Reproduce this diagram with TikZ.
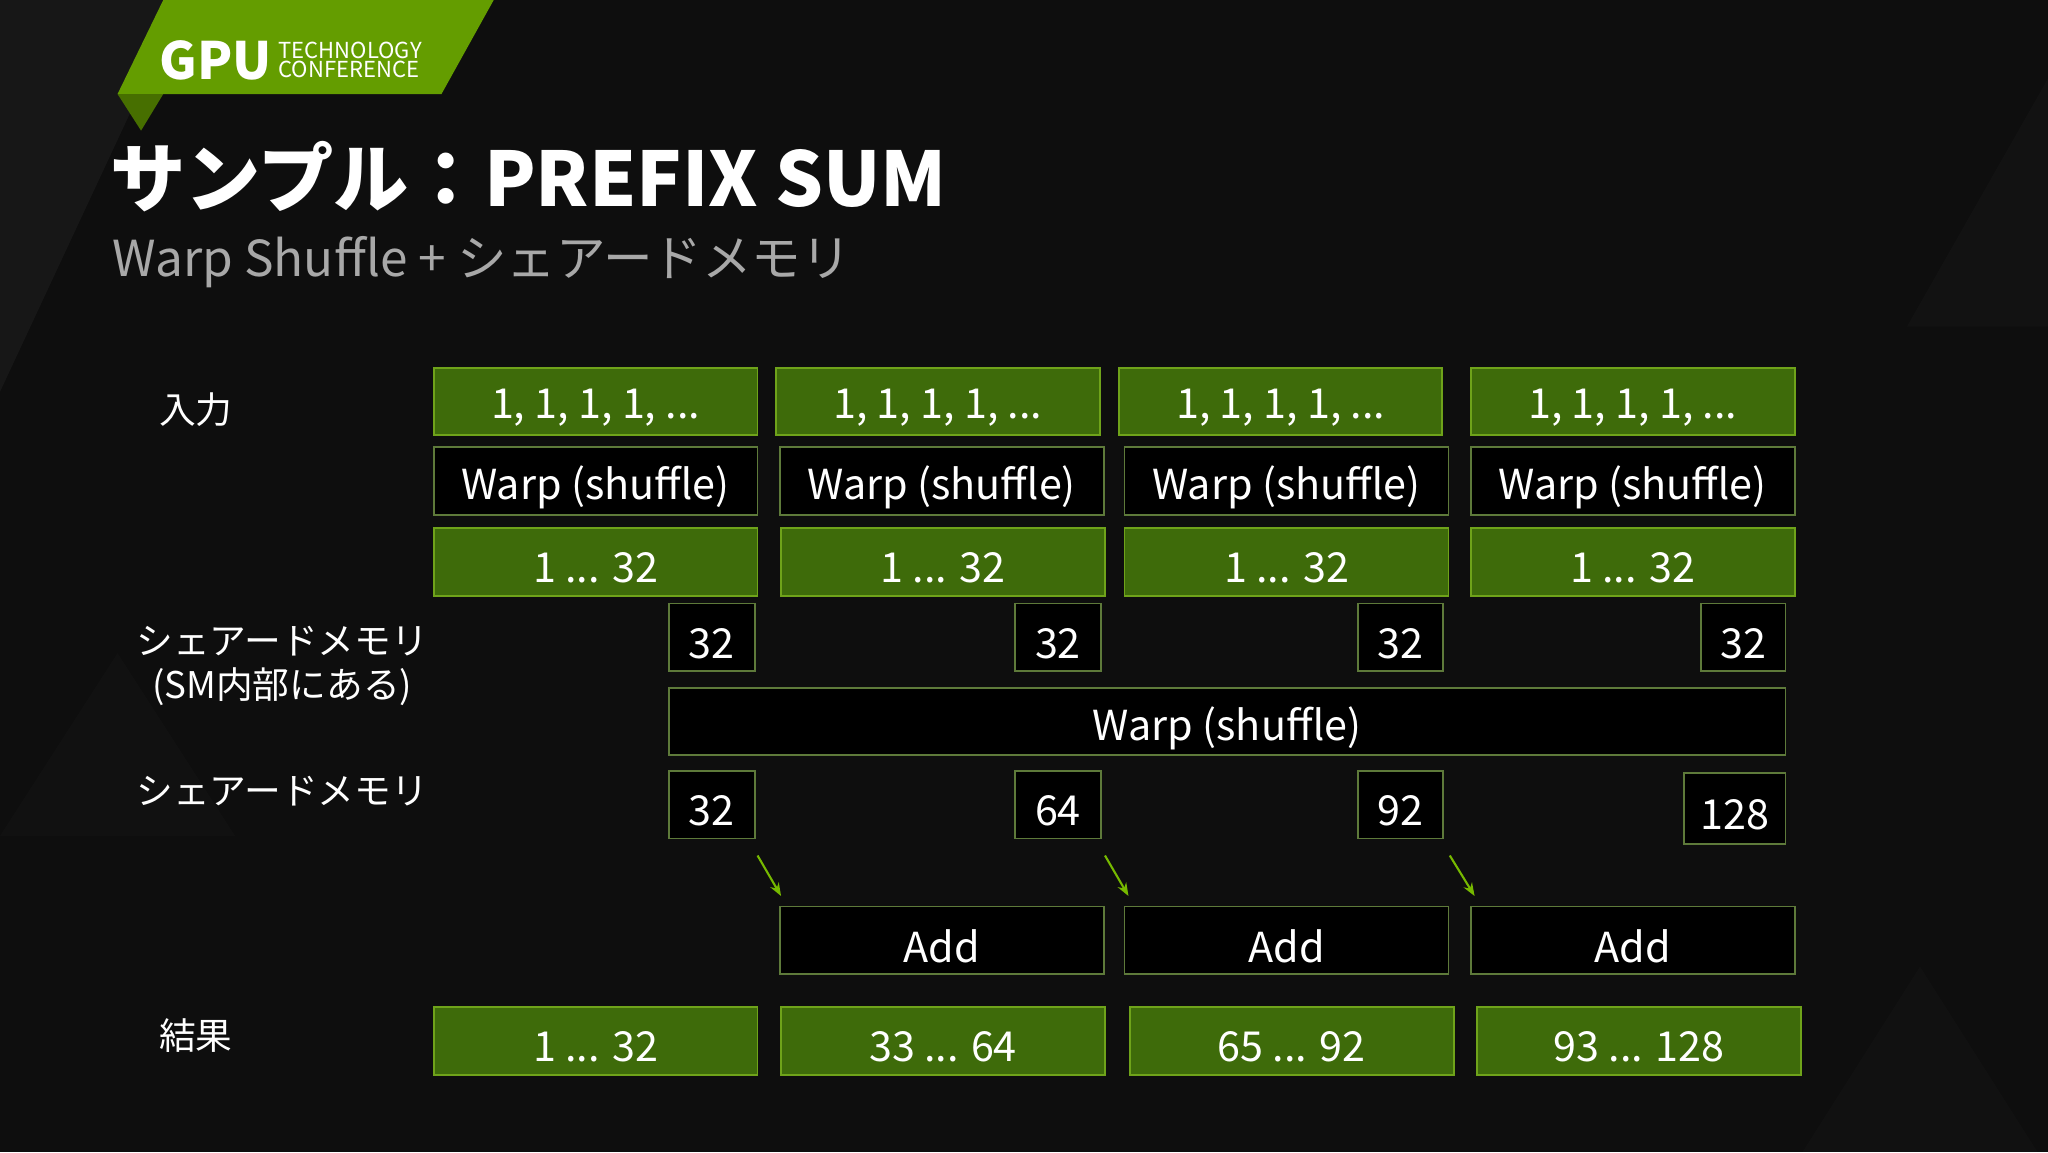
\documentclass[tikz,border=0pt]{standalone}
\usepackage{fontspec}
\setmainfont{Noto Sans CJK JP}
\usetikzlibrary{arrows.meta}
\definecolor{bg}{HTML}{0E0E0E}
\definecolor{ngreen}{HTML}{76B900}
\definecolor{gfill}{HTML}{3E6B0A}
\definecolor{gedge}{HTML}{6FA31A}
\definecolor{oedge}{HTML}{5E7A3A}
\definecolor{subgray}{HTML}{A8A8A8}
\tikzset{
 gbox/.style={draw=gedge,line width=0.35mm,fill=gfill,text=white,font=\fontsize{22.5}{26}\selectfont},
 obox/.style={draw=oedge,line width=0.35mm,fill=black,text=white,font=\fontsize{22.5}{26}\selectfont},
 lbl/.style={text=white,font=\fontsize{20}{24}\selectfont,align=center},
 arr/.style={draw=ngreen,line width=0.4mm,-{Stealth[length=2.5mm]}}
}
\newcommand{\bx}[6]{\path[#1] (#2,#3) rectangle (#4,#5) node[midway,inner sep=0pt,yshift=-1.2mm] (#6) {};}
\begin{document}
\begin{tikzpicture}[x=0.25mm,y=-0.25mm]
\fill[bg] (0,0) rectangle (1568,882);
\useasboundingbox (0,0) rectangle (1568,882);
\fill[white,opacity=0.04] (0,0) -- (140,0) -- (0,300) -- cycle;
\fill[white,opacity=0.02] (1460,250) -- (1568,60) -- (1568,250) -- cycle;
\fill[white,opacity=0.015] (0,640) -- (90,500) -- (180,640) -- cycle;
\fill[white,opacity=0.015] (1380,882) -- (1470,740) -- (1560,882) -- cycle;
% logo
\fill[ngreen!85!black] (90,72) -- (125,0) -- (378,0) -- (338,72) -- cycle;
\fill[ngreen!60!black] (90,72) -- (125,72) -- (108,100) -- cycle;
\node[anchor=west,text=white,font=\bfseries\fontsize{28}{30}\selectfont,inner sep=0pt] (gpu) at (122,46) {GPU};
\node[anchor=west,text=white,font=\fontsize{12}{13}\selectfont,align=left,inner sep=0pt] (tc) at (213,46) {TECHNOLOGY\\[-3pt]CONFERENCE};
% titles
\node[anchor=base west,text=white,font=\bfseries\fontsize{41}{46}\selectfont,inner sep=0pt] (title) at (84,158) {サンプル：PREFIX SUM};
\node[anchor=base west,text=subgray,font=\fontsize{27}{30}\selectfont,inner sep=0pt] (sub) at (86,212) {Warp Shuffle + シェアードメモリ};
% labels
\node[lbl] (l1) at (150,314) {入力};
\node[lbl] (l2) at (216,510) {シェアードメモリ\\(SM内部にある)};
\node[lbl] (l3) at (216,606) {シェアードメモリ};
\node[lbl] (l4) at (150,793) {結果};
% row1
\bx{gbox}{332}{282}{580}{333}{a1} \node[gbox,draw=none,fill=none] at (a1) {1, 1, 1, 1, ...};
\bx{gbox}{594}{282}{842}{333}{a2} \node[gbox,draw=none,fill=none] at (a2) {1, 1, 1, 1, ...};
\bx{gbox}{857}{282}{1104}{333}{a3} \node[gbox,draw=none,fill=none] at (a3) {1, 1, 1, 1, ...};
\bx{gbox}{1126}{282}{1374}{333}{a4} \node[gbox,draw=none,fill=none] at (a4) {1, 1, 1, 1, ...};
% row2
\bx{obox}{332}{342}{580}{394}{b1} \node[obox,draw=none,fill=none] at (b1) {Warp (shuffle)};
\bx{obox}{597}{342}{845}{394}{b2} \node[obox,draw=none,fill=none] at (b2) {Warp (shuffle)};
\bx{obox}{861}{342}{1109}{394}{b3} \node[obox,draw=none,fill=none] at (b3) {Warp (shuffle)};
\bx{obox}{1126}{342}{1374}{394}{b4} \node[obox,draw=none,fill=none] at (b4) {Warp (shuffle)};
% row3
\bx{gbox}{332}{404}{580}{456}{c1} \node[gbox,draw=none,fill=none] at (c1) {1 ... 32};
\bx{gbox}{598}{404}{846}{456}{c2} \node[gbox,draw=none,fill=none] at (c2) {1 ... 32};
\bx{gbox}{861}{404}{1109}{456}{c3} \node[gbox,draw=none,fill=none] at (c3) {1 ... 32};
\bx{gbox}{1126}{404}{1374}{456}{c4} \node[gbox,draw=none,fill=none] at (c4) {1 ... 32};
% row4
\bx{obox}{512}{462}{578}{514}{d1} \node[obox,draw=none,fill=none] at (d1) {32};
\bx{obox}{777}{462}{843}{514}{d2} \node[obox,draw=none,fill=none] at (d2) {32};
\bx{obox}{1040}{462}{1105}{514}{d3} \node[obox,draw=none,fill=none] at (d3) {32};
\bx{obox}{1302}{462}{1367}{514}{d4} \node[obox,draw=none,fill=none] at (d4) {32};
% wide warp
\bx{obox}{512}{527}{1367}{578}{w} \node[obox,draw=none,fill=none] at (w) {Warp (shuffle)};
% row6
\bx{obox}{512}{590}{578}{642}{e1} \node[obox,draw=none,fill=none] at (e1) {32};
\bx{obox}{777}{590}{843}{642}{e2} \node[obox,draw=none,fill=none] at (e2) {64};
\bx{obox}{1040}{590}{1105}{642}{e3} \node[obox,draw=none,fill=none] at (e3) {92};
\bx{obox}{1289}{592}{1367}{646}{e4} \node[obox,draw=none,fill=none] at (e4) {128};
% adds
\bx{obox}{597}{694}{845}{746}{f2} \node[obox,draw=none,fill=none] at (f2) {Add};
\bx{obox}{861}{694}{1109}{746}{f3} \node[obox,draw=none,fill=none] at (f3) {Add};
\bx{obox}{1126}{694}{1374}{746}{f4} \node[obox,draw=none,fill=none] at (f4) {Add};
% arrows
\coordinate (s1) at (580,655); \coordinate (t1) at (598,686);
\coordinate (s2) at (846,655); \coordinate (t2) at (864,686);
\coordinate (s3) at (1110,655); \coordinate (t3) at (1129,686);
\draw[arr] (s1) -- (t1); \draw[arr] (s2) -- (t2); \draw[arr] (s3) -- (t3);
% results
\bx{gbox}{332}{771}{580}{823}{g1} \node[gbox,draw=none,fill=none] at (g1) {1 ... 32};
\bx{gbox}{598}{771}{846}{823}{g2} \node[gbox,draw=none,fill=none] at (g2) {33 ... 64};
\bx{gbox}{865}{771}{1113}{823}{g3} \node[gbox,draw=none,fill=none] at (g3) {65 ... 92};
\bx{gbox}{1131}{771}{1379}{823}{g4} \node[gbox,draw=none,fill=none] at (g4) {93 ... 128};
\end{tikzpicture}
\end{document}
